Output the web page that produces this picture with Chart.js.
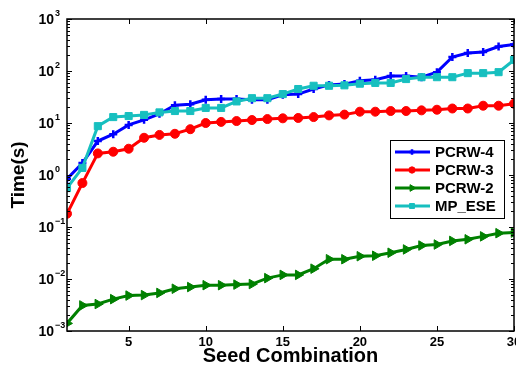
<!DOCTYPE html>
<html>
<head>
<meta charset="utf-8">
<script src="https://cdn.jsdelivr.net/npm/chart.js@4/dist/chart.umd.min.js"></script>
<style>
  html, body { margin: 0; padding: 0; background: #fff; }
  #wrap { width: 516px; height: 366px; overflow: hidden; position: relative; }
  canvas { display: block; }
</style>
</head>
<body>
<div id="wrap"><canvas id="timeChart" width="540" height="366" style="width:540px;height:366px"></canvas></div>
<script>
// Seed combinations on the x axis
const seeds = [1, 2, 3, 4, 5, 6, 7, 8, 9, 10, 11, 12, 13, 14, 15, 16, 17, 18, 19, 20, 21, 22, 23, 24, 25, 26, 27, 28, 29, 30];

// Run times in seconds
const pcrw4 = [0.84, 1.7, 4.5, 6.1, 9.2, 11.5, 15, 22, 23, 28, 29, 29, 28, 28, 35, 36, 45, 54, 56, 65, 68, 80, 80, 76, 95, 186, 222, 233, 295, 325];
const pcrw3 = [0.18, 0.7, 2.6, 2.8, 3.2, 5.2, 5.9, 6.2, 7.6, 10, 10.5, 10.9, 11.4, 11.9, 12.3, 12.5, 13, 14, 14.5, 16.5, 16.5, 17, 17, 17.5, 18, 19, 19, 21.5, 21.5, 23.5];
const pcrw2 = [0.0014, 0.0031, 0.0033, 0.0041, 0.0048, 0.0049, 0.0054, 0.0065, 0.007, 0.0076, 0.0076, 0.0078, 0.008, 0.0104, 0.012, 0.012, 0.0158, 0.024, 0.024, 0.0274, 0.028, 0.032, 0.037, 0.044, 0.046, 0.054, 0.058, 0.066, 0.076, 0.078];
const mpEse = [0.56, 1.37, 8.7, 13, 13.6, 14.3, 16, 17, 17, 19.5, 19.5, 26, 30, 30, 36, 45, 52, 52, 53, 57, 59, 59, 70, 76, 76, 76, 91, 91, 95, 163];

const xTicks = [5, 10, 15, 20, 25, 30];
const yExponents = [-3, -2, -1, 0, 1, 2, 3];

const FONT = "'Liberation Sans', Arial, Helvetica, sans-serif";

function toPoints(values) {
    return seeds.map((s, i) => ({ x: s, y: values[i] }));
}

// Matlab style frame: full box, inward ticks, 10^n labels and the inset legend
const matlabFrame = {
    id: 'matlabFrame',
    afterDraw(chart) {
        const ctx = chart.ctx;
        const area = chart.chartArea;
        const xs = chart.scales.x;
        const ys = chart.scales.y;
        ctx.save();
        ctx.strokeStyle = '#000';
        ctx.lineWidth = 1.5;
        ctx.strokeRect(area.left, area.top, area.right - area.left, area.bottom - area.top);

        ctx.lineWidth = 1;
        ctx.beginPath();
        xTicks.forEach(v => {
            const px = Math.round(xs.getPixelForValue(v)) + 0.5;
            ctx.moveTo(px, area.bottom); ctx.lineTo(px, area.bottom - 5);
            ctx.moveTo(px, area.top); ctx.lineTo(px, area.top + 5);
        });
        yExponents.forEach((e, idx) => {
            const base = Math.pow(10, e);
            const py = Math.round(ys.getPixelForValue(base)) + 0.5;
            ctx.moveTo(area.left, py); ctx.lineTo(area.left + 5, py);
            ctx.moveTo(area.right, py); ctx.lineTo(area.right - 5, py);
            if (idx < yExponents.length - 1) {
                for (let m = 2; m <= 9; m++) {
                    const my = Math.round(ys.getPixelForValue(m * base)) + 0.5;
                    ctx.moveTo(area.left, my); ctx.lineTo(area.left + 3, my);
                    ctx.moveTo(area.right, my); ctx.lineTo(area.right - 3, my);
                }
            }
        });
        ctx.stroke();

        // y tick labels as 10 with a raised exponent
        ctx.fillStyle = '#000';
        ctx.textBaseline = 'middle';
        yExponents.forEach(e => {
            const py = ys.getPixelForValue(Math.pow(10, e));
            ctx.font = 'bold 14px ' + FONT;
            ctx.textAlign = 'right';
            ctx.fillText('10', 54, py + 1);
            ctx.font = 'bold 9px ' + FONT;
            ctx.textAlign = 'left';
            ctx.fillText(e < 0 ? '\u2212' + Math.abs(e) : String(e), 55, py - 5);
        });

        // legend box
        const lx = 390, ly = 140, lw = 114, lh = 78;
        ctx.fillStyle = '#fff';
        ctx.fillRect(lx, ly, lw, lh);
        ctx.strokeStyle = '#000';
        ctx.lineWidth = 1;
        ctx.strokeRect(lx + 0.5, ly + 0.5, lw, lh);
        chart.data.datasets.forEach((ds, row) => {
            const y = ly + 12 + row * 18;
            ctx.strokeStyle = ds.borderColor;
            ctx.fillStyle = ds.borderColor;
            ctx.lineWidth = 3;
            ctx.beginPath();
            ctx.moveTo(lx + 5, y); ctx.lineTo(lx + 40, y);
            ctx.stroke();
            ctx.lineWidth = ds.pointBorderWidth;
            Chart.helpers.drawPoint(ctx, {
                pointStyle: ds.pointStyle,
                rotation: ds.pointRotation || 0,
                radius: ds.pointRadius * 0.7,
                borderWidth: ds.pointBorderWidth
            }, lx + 22, y);
            ctx.fillStyle = '#000';
            ctx.font = 'bold 15px ' + FONT;
            ctx.textAlign = 'left';
            ctx.textBaseline = 'middle';
            ctx.fillText(ds.label, lx + 45, y + 1);
        });
        ctx.restore();
    }
};

function series(label, values, color, style, radius, extra) {
    return Object.assign({
        label: label,
        data: toPoints(values),
        borderColor: color,
        backgroundColor: color,
        pointBackgroundColor: color,
        pointBorderColor: color,
        borderWidth: 3,
        pointStyle: style,
        pointRadius: radius,
        pointBorderWidth: 1,
        tension: 0
    }, extra || {});
}

const ctx = document.getElementById('timeChart').getContext('2d');
new Chart(ctx, {
    type: 'line',
    data: {
        datasets: [
            series('PCRW-4', pcrw4, '#0000ff', 'cross', 4, { pointBorderWidth: 2.5, order: 3 }),
            series('PCRW-3', pcrw3, '#ff0000', 'circle', 4.5, { order: 2 }),
            series('PCRW-2', pcrw2, '#008000', 'triangle', 5.5, { pointRotation: 90, order: 1 }),
            series('MP_ESE', mpEse, '#17bfbf', 'rect', 5, { order: 0 })
        ]
    },
    options: {
        responsive: false,
        animation: false,
        layout: { padding: { left: 0, top: 19, right: 26, bottom: 0 } },
        plugins: {
            legend: { display: false },
            tooltip: { enabled: false }
        },
        scales: {
            x: {
                type: 'linear',
                min: 1,
                max: 30,
                grid: { display: false, drawTicks: false },
                border: { display: false },
                afterBuildTicks: scale => { scale.ticks = xTicks.map(v => ({ value: v })); },
                afterFit: scale => { scale.height = 35; },
                ticks: {
                    color: '#000',
                    padding: 4,
                    maxRotation: 0,
                    autoSkip: false,
                    font: { family: FONT, size: 13, weight: 'bold' }
                },
                title: {
                    display: true,
                    text: 'Seed Combination',
                    color: '#000',
                    padding: { top: 0, bottom: 0 },
                    font: { family: FONT, size: 20, weight: 'bold', lineHeight: 1 }
                }
            },
            y: {
                type: 'logarithmic',
                min: 0.001,
                max: 1000,
                grid: { display: false, drawTicks: false },
                border: { display: false },
                afterBuildTicks: scale => { scale.ticks = yExponents.map(e => ({ value: Math.pow(10, e) })); },
                afterFit: scale => { scale.width = 67; },
                ticks: { display: false },
                title: {
                    display: true,
                    text: 'Time(s)',
                    color: '#000',
                    padding: { top: 7, bottom: 0 },
                    font: { family: FONT, size: 19, weight: 'bold' }
                }
            }
        }
    },
    plugins: [matlabFrame]
});
</script>
</body>
</html>
